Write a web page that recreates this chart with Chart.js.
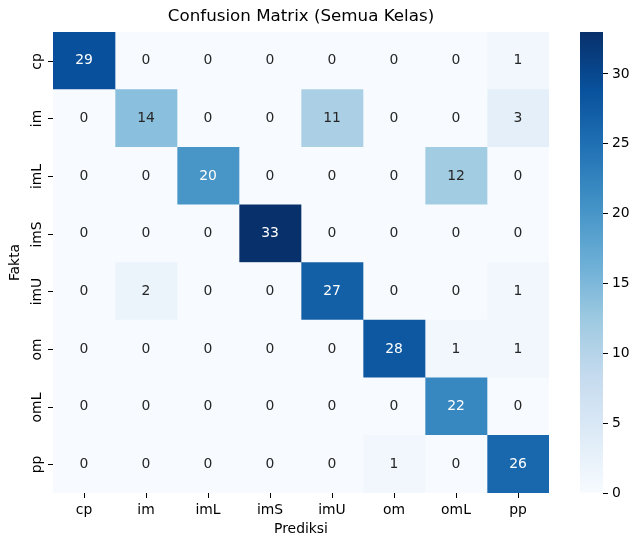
<!DOCTYPE html>
<html>
<head>
<meta charset="utf-8">
<script src="https://cdn.jsdelivr.net/npm/chart.js@4/dist/chart.umd.min.js"></script>
<style>
  body { margin: 0; background: #fff; }
  #wrap { position: relative; width: 640px; height: 547px; }
  #wrap canvas { position: absolute; left: 0; top: 0; }
</style>
</head>
<body>
<div id="wrap">
  <canvas id="matrix" width="640" height="547"></canvas>
  <canvas id="colorbar" width="640" height="547"></canvas>
</div>
<script>
const classes = ['cp', 'im', 'imL', 'imS', 'imU', 'om', 'omL', 'pp'];
// rows = Fakta, columns = Prediksi
const rowCp  = [29, 0, 0, 0, 0, 0, 0, 1];
const rowIm  = [0, 14, 0, 0, 11, 0, 0, 3];
const rowImL = [0, 0, 20, 0, 0, 0, 12, 0];
const rowImS = [0, 0, 0, 33, 0, 0, 0, 0];
const rowImU = [0, 2, 0, 0, 27, 0, 0, 1];
const rowOm  = [0, 0, 0, 0, 0, 28, 1, 1];
const rowOmL = [0, 0, 0, 0, 0, 0, 22, 0];
const rowPp  = [0, 0, 0, 0, 0, 1, 0, 26];
const matrix = [rowCp, rowIm, rowImL, rowImS, rowImU, rowOm, rowOmL, rowPp];
const colorTicks = [0, 5, 10, 15, 20, 25, 30];

const vmax = 33;
const font = 'DejaVu Sans';
const titleText = 'Confusion Matrix (Semua Kelas)';

// matplotlib "Blues"
const blues = ['#f7fbff', '#deebf7', '#c6dbef', '#9ecae1', '#6baed6', '#4292c6', '#2171b5', '#08519c', '#08306b'];
const hexRgb = h => [1, 3, 5].map(i => parseInt(h.slice(i, i + 2), 16));

function bluesRgb(v) {
  const t = Math.max(0, Math.min(1, v / vmax)) * (blues.length - 1);
  const i = Math.min(Math.floor(t), blues.length - 2);
  const f = t - i;
  const a = hexRgb(blues[i]), b = hexRgb(blues[i + 1]);
  return a.map((c, k) => Math.round(c + (b[k] - c) * f));
}
const rgbStr = c => `rgb(${c[0]},${c[1]},${c[2]})`;

// seaborn picks white text on dark cells
function textColor(v) {
  const lin = bluesRgb(v).map(c => {
    c /= 255;
    return c <= 0.03928 ? c / 12.92 : Math.pow((c + 0.055) / 1.055, 2.4);
  });
  const lum = 0.2126 * lin[0] + 0.7152 * lin[1] + 0.0722 * lin[2];
  return lum < 0.408 ? '#ffffff' : '#262626';
}

const annotate = {
  id: 'annotate',
  afterDatasetsDraw(chart) {
    const ctx = chart.ctx;
    ctx.save();
    ctx.font = `13.9px "${font}"`;
    ctx.textAlign = 'center';
    ctx.textBaseline = 'middle';
    chart.data.datasets.forEach((ds, c) => {
      chart.getDatasetMeta(c).data.forEach((el, r) => {
        const p = el.getCenterPoint();
        const v = matrix[r][c];
        ctx.fillStyle = textColor(v);
        ctx.fillText(String(v), p.x, p.y);
      });
    });
    ctx.restore();
  }
};

// title centred on the cells, and vertical row labels like matplotlib
const decorations = {
  id: 'decorations',
  afterDraw(chart) {
    const ctx = chart.ctx;
    const area = chart.chartArea;
    const y = chart.scales.y;
    ctx.save();
    ctx.fillStyle = '#000';
    ctx.textAlign = 'center';
    ctx.textBaseline = 'middle';
    ctx.font = `16.7px "${font}"`;
    ctx.fillText(titleText, (area.left + area.right) / 2, 17);

    ctx.font = `13.9px "${font}"`;
    ctx.strokeStyle = '#000';
    ctx.lineWidth = 1;
    classes.forEach((name, i) => {
      const py = Math.round(y.getPixelForValue(i)) + 0.5;
      ctx.beginPath();
      ctx.moveTo(area.left - 5, py);
      ctx.lineTo(area.left, py);
      ctx.stroke();
      ctx.save();
      ctx.translate(37, py);
      ctx.rotate(-Math.PI / 2);
      ctx.fillText(name, 0, 0);
      ctx.restore();
    });
    ctx.restore();
  }
};

// one dataset per predicted column, horizontal floating bars span one cell
const datasets = classes.map((name, c) => ({
  label: name,
  data: matrix.map(() => [c, c + 1]),
  backgroundColor: matrix.map(row => rgbStr(bluesRgb(row[c]))),
  borderWidth: 0,
  barPercentage: 1,
  categoryPercentage: 1
}));

new Chart(document.getElementById('matrix'), {
  type: 'bar',
  data: { labels: classes, datasets: datasets },
  options: {
    responsive: false,
    animation: false,
    indexAxis: 'y',
    layout: { padding: { left: 0, right: 91, top: 32, bottom: 0 } },
    plugins: {
      legend: { display: false },
      tooltip: { enabled: false },
      title: { display: false }
    },
    scales: {
      x: {
        type: 'linear',
        min: 0,
        max: classes.length,
        stacked: false,
        afterBuildTicks: s => { s.ticks = classes.map((_, i) => ({ value: i + 0.5 })); },
        afterFit: s => { s.height = 54; },
        ticks: {
          callback: v => classes[Math.floor(v)],
          color: '#000',
          font: { family: font, size: 13.9 },
          padding: 4,
          maxRotation: 0,
          autoSkip: false
        },
        grid: { drawOnChartArea: false, drawTicks: true, tickLength: 5, color: '#000', lineWidth: 1 },
        border: { display: false },
        title: {
          display: true,
          text: 'Prediksi',
          color: '#000',
          font: { family: font, size: 13.9 },
          padding: { top: 2, bottom: 9 }
        }
      },
      y: {
        type: 'category',
        stacked: true,
        offset: true,
        afterFit: s => { s.width = 53; },
        ticks: { display: false },
        grid: { display: false },
        border: { display: false },
        title: {
          display: true,
          text: 'Fakta',
          color: '#000',
          font: { family: font, size: 13.9 },
          padding: { top: 7, bottom: 0 }
        }
      }
    }
  },
  plugins: [annotate, decorations]
});

// colour bar
new Chart(document.getElementById('colorbar'), {
  type: 'bar',
  data: {
    labels: [''],
    datasets: [{
      data: [[0, vmax]],
      borderWidth: 0,
      barPercentage: 1,
      categoryPercentage: 1,
      backgroundColor: context => {
        const area = context.chart.chartArea;
        if (!area) return blues[0];
        const g = context.chart.ctx.createLinearGradient(0, area.bottom, 0, area.top);
        blues.forEach((c, i) => g.addColorStop(i / (blues.length - 1), c));
        return g;
      }
    }]
  },
  options: {
    responsive: false,
    animation: false,
    layout: { padding: { left: 580, right: 0, top: 32, bottom: 54 } },
    plugins: { legend: { display: false }, tooltip: { enabled: false } },
    scales: {
      x: { display: false },
      y: {
        position: 'right',
        min: 0,
        max: vmax,
        afterFit: s => { s.width = 37; },
        afterBuildTicks: s => { s.ticks = colorTicks.map(v => ({ value: v })); },
        ticks: { color: '#000', font: { family: font, size: 13.9 }, padding: 4 },
        grid: { drawOnChartArea: false, drawTicks: true, tickLength: 5, color: '#000' },
        border: { display: false }
      }
    }
  }
});
</script>
</body>
</html>
